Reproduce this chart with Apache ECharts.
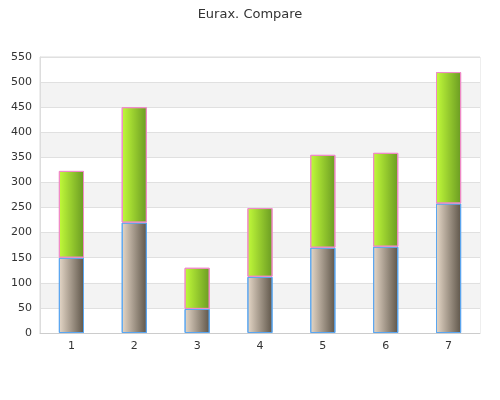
<!DOCTYPE html><html><head><meta charset="utf-8"><script src="https://cdn.jsdelivr.net/npm/echarts@6/dist/echarts.min.js"></script></head><body style="margin:0"><div id="c" style="width:500px;height:400px"></div><script>
const categories=['1','2','3','4','5','6','7'];
const bottomVals=[150,220,48,112,170,172,258];
const topVals=[173,230,82,137,185,187,262];
const ch=echarts.init(document.getElementById('c'));
function grad(a,b){return new echarts.graphic.LinearGradient(0,0,1,0,[{offset:0,color:a},{offset:1,color:b}]);}
ch.setOption({
title:{text:'Eurax. Compare',left:'center',top:3,textStyle:{fontSize:13,fontWeight:'normal',color:'#333',fontFamily:'DejaVu Sans'}},
grid:{left:40,right:20,top:57,bottom:67,show:true,borderColor:'#ddd',borderWidth:1,backgroundColor:'transparent'},
xAxis:{type:'category',data:categories,axisLine:{lineStyle:{color:'#ccc'}},axisTick:{lineStyle:{color:'#ccc'}},axisLabel:{color:'#333',fontFamily:'DejaVu Sans',fontSize:11}},
yAxis:{type:'value',min:0,max:550,interval:50,axisLine:{show:true,lineStyle:{color:'#ddd'}},axisTick:{show:false},splitLine:{lineStyle:{color:'#e0e0e0'}},splitArea:{show:true,areaStyle:{color:['#ffffff','#f3f3f3']}},axisLabel:{color:'#333',fontFamily:'DejaVu Sans',fontSize:11}},
series:[
{type:'bar',stack:'a',barWidth:'40%',data:bottomVals,itemStyle:{color:grad('#e6d8c8','#5e5549'),borderColor:'#5aa6f0',borderWidth:1}},
{type:'bar',stack:'a',data:topVals,itemStyle:{color:grad('#c2fb3a','#6a9b22'),borderColor:'#f08ac8',borderWidth:1}}
]});
</script></body></html>
